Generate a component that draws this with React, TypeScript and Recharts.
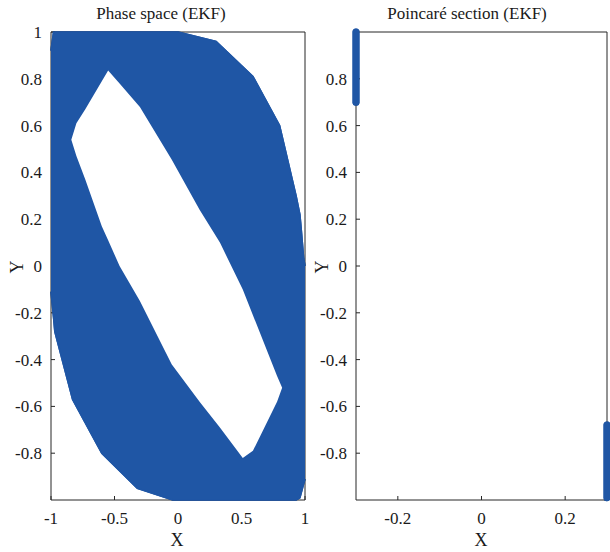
import type { ReactNode } from 'react'
import { ComposedChart, Area, Line, XAxis, YAxis } from 'recharts'

const BLUE = '#1f56a5'
const INK = '#262626'
const SERIF = '"Liberation Serif", "DejaVu Serif", serif'

// Phase-space band (x, lower edge, upper edge) of the filled trajectory
const outerX = [-1, -0.98, -0.97, -0.83, -0.6, -0.32, -0.04, 0, 0.3, 0.59, 0.8, 0.93, 0.96, 0.97, 0.99, 1]
const outerLow = [-0.11, -0.22, -0.28, -0.57, -0.8, -0.95, -1, -1, -1, -1, -1, -1, -0.99, -0.97, -0.93, -0.91]
const outerHigh = [0.92, 1, 1, 1, 1, 1, 1, 1, 0.96, 0.81, 0.6, 0.3, 0.22, 0.16, 0.03, 0]

// Empty region inside the band
const holeX = [-0.84, -0.8, -0.73, -0.6, -0.55, -0.46, -0.3, -0.05, 0.17, 0.33, 0.51, 0.59, 0.78, 0.82]
const holeLow = [0.54, 0.47, 0.37, 0.17, 0.11, 0, -0.15, -0.42, -0.58, -0.69, -0.82, -0.79, -0.58, -0.52]
const holeHigh = [0.54, 0.61, 0.67, 0.79, 0.835, 0.78, 0.68, 0.455, 0.24, 0.1, -0.1, -0.21, -0.47, -0.52]

// Poincaré section crossings
const crossLeftX = [-0.3, -0.3]
const crossLeftY = [0.7, 1]
const crossRightX = [0.3, 0.3]
const crossRightY = [-0.68, -0.99]

const phaseXTicks = [-1, -0.5, 0, 0.5, 1]
const phaseYTicks = [-0.8, -0.6, -0.4, -0.2, 0, 0.2, 0.4, 0.6, 0.8, 1]
const sectionXTicks = [-0.2, 0, 0.2]
const sectionYTicks = [-0.8, -0.6, -0.4, -0.2, 0, 0.2, 0.4, 0.6, 0.8]

const outerData = outerX.map((x, i) => ({ x, band: [outerLow[i], outerHigh[i]] }))
const holeData = holeX.map((x, i) => ({ x, band: [holeLow[i], holeHigh[i]] }))
const crossLeft = crossLeftX.map((x, i) => ({ x, y: crossLeftY[i] }))
const crossRight = crossRightX.map((x, i) => ({ x, y: crossRightY[i] }))

const tickStyle = { fontSize: 17, fill: '#1a1a1a', fontFamily: SERIF }
const axisLine = { stroke: INK, strokeWidth: 1 }

type PanelProps = {
  left: number
  width: number
  marginRight: number
  xDomain: number[]
  xTicks: number[]
  yTicks: number[]
  children: ReactNode
}

// One MATLAB-style boxed panel: inward ticks on all four sides. The same
// series are drawn again by a chart laid over it (axes hidden), so the
// marks end up covering the frame lines.
function Panel({ left, width, marginRight, xDomain, xTicks, yTicks, children }: PanelProps) {
  return (
    <>
      <div style={{ position: 'absolute', left, top: 0 }}>
        <ComposedChart width={width} height={552} margin={{ top: 31, right: marginRight - 1, bottom: 22, left: 6 }}>
          <XAxis
            xAxisId="b"
            type="number"
            dataKey="x"
            domain={xDomain}
            ticks={xTicks}
            height={30}
            tickSize={-4}
            tickMargin={16}
            tick={tickStyle}
            axisLine={axisLine}
            tickLine={{ stroke: INK }}
          />
          <XAxis
            xAxisId="t"
            orientation="top"
            type="number"
            dataKey="x"
            domain={xDomain}
            ticks={xTicks}
            height={1}
            tickSize={-4}
            tick={false}
            axisLine={axisLine}
            tickLine={{ stroke: INK }}
          />
          <YAxis
            yAxisId="l"
            type="number"
            domain={[-1, 1]}
            ticks={yTicks}
            width={45}
            tickSize={-4}
            tickMargin={13}
            tick={tickStyle}
            axisLine={axisLine}
            tickLine={{ stroke: INK }}
          />
          <YAxis
            yAxisId="r"
            orientation="right"
            type="number"
            domain={[-1, 1]}
            ticks={yTicks}
            width={1}
            tickSize={-4}
            tick={false}
            axisLine={axisLine}
            tickLine={{ stroke: INK }}
          />
          {children}
        </ComposedChart>
      </div>
      <div style={{ position: 'absolute', left, top: 0 }}>
        <ComposedChart width={width} height={552} margin={{ top: 32, right: marginRight, bottom: 52, left: 51 }}>
          <XAxis xAxisId="b" type="number" dataKey="x" domain={xDomain} hide />
          <YAxis yAxisId="l" type="number" domain={[-1, 1]} hide />
          {children}
        </ComposedChart>
      </div>
    </>
  )
}

function Title({ text, cx }: { text: string; cx: number }) {
  return (
    <div
      style={{
        position: 'absolute',
        left: cx - 150,
        top: 5,
        width: 300,
        textAlign: 'center',
        fontFamily: SERIF,
        fontSize: 17,
        lineHeight: 1,
        color: '#1a1a1a',
      }}
    >
      {text}
    </div>
  )
}

function AxisName({ text, cx, cy, rotate }: { text: string; cx: number; cy: number; rotate?: boolean }) {
  return (
    <div
      style={{
        position: 'absolute',
        left: cx,
        top: cy,
        transform: `translate(-50%, -50%)${rotate ? ' rotate(-90deg)' : ''}`,
        fontFamily: SERIF,
        fontSize: 18,
        lineHeight: 1,
        color: '#1a1a1a',
      }}
    >
      {text}
    </div>
  )
}

const phaseSeries = [
  <Area
    key="band"
    data={outerData}
    xAxisId="b"
    yAxisId="l"
    dataKey="band"
    type="linear"
    fill={BLUE}
    fillOpacity={1}
    stroke={BLUE}
    strokeWidth={1.5}
    isAnimationActive={false}
  />,
  <Area
    key="hole"
    data={holeData}
    xAxisId="b"
    yAxisId="l"
    dataKey="band"
    type="linear"
    fill="#ffffff"
    fillOpacity={1}
    stroke="none"
    isAnimationActive={false}
  />,
]

const sectionSeries = [crossLeft, crossRight].map((pts, i) => (
  <Line
    key={i}
    data={pts}
    xAxisId="b"
    yAxisId="l"
    dataKey="y"
    type="linear"
    stroke={BLUE}
    strokeWidth={7}
    strokeLinecap="round"
    dot={false}
    isAnimationActive={false}
  />
))

export default function App() {
  return (
    <div style={{ position: 'absolute', left: 0, top: 0, width: 610, height: 552, background: '#fff', overflow: 'hidden' }}>
      <Panel left={0} width={320} marginRight={15} xDomain={[-1, 1]} xTicks={phaseXTicks} yTicks={phaseYTicks}>
        {phaseSeries}
      </Panel>
      <Panel left={305} width={305} marginRight={3} xDomain={[-0.3, 0.3]} xTicks={sectionXTicks} yTicks={sectionYTicks}>
        {sectionSeries}
      </Panel>
      <Title text="Phase space (EKF)" cx={161} />
      <Title text="Poincaré section (EKF)" cx={467} />
      <AxisName text="X" cx={177} cy={540} />
      <AxisName text="X" cx={481} cy={540} />
      <AxisName text="Y" cx={17} cy={267} rotate />
      <AxisName text="Y" cx={322} cy={267} rotate />
    </div>
  )
}
